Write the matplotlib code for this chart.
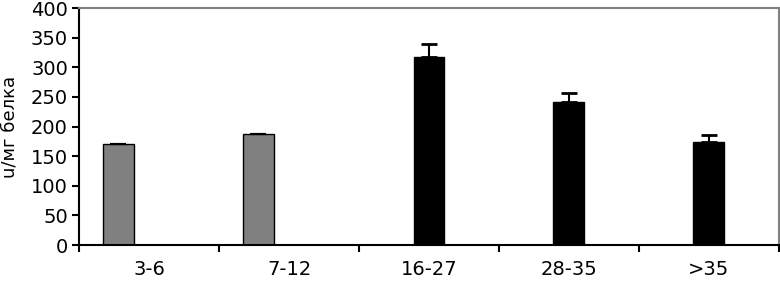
import matplotlib.pyplot as plt
import numpy as np

plt.rcParams['font.family'] = ['DejaVu Sans']

groups = ['3-6', '7-12', '16-27', '28-35', '>35']
gray_vals = [170, 188]
gray_err = [1, 0]
black_vals = [318, 241, 174]
black_err = [22, 16, 11]

fig = plt.figure(figsize=(7.8, 2.82), dpi=100)
ax = fig.add_axes([0.1013, 0.1312, 0.8974, 0.8404])

w = 0.2214
x = np.arange(len(groups))
ax.bar(x[:2] - w, gray_vals, width=w, color='#808080', edgecolor='black', linewidth=1,
       yerr=[[0, 0], gray_err], error_kw=dict(ecolor='black', elinewidth=1.2, capsize=6, capthick=1.5))
ax.bar(x[2:], black_vals, width=w, color='black', edgecolor='black', linewidth=1,
       yerr=[[0, 0, 0], black_err], error_kw=dict(ecolor='black', elinewidth=1.5, capsize=6, capthick=2))

ax.set_xlim(-0.5, 4.5)
ax.set_ylim(0, 400)
ax.set_yticks(range(0, 401, 50))
ax.set_xticks(x)
ax.set_xticklabels(groups, fontsize=14)
ax.set_xticks(np.arange(-0.5, 4.6, 1), minor=True)
ax.tick_params(axis='x', which='major', length=0, pad=11)
ax.tick_params(axis='x', which='minor', length=5, width=1.5, direction='out')
ax.tick_params(axis='y', labelsize=14, length=5, width=1.5, direction='out', pad=3)
ax.set_ylabel('u/мг белка', fontsize=13)
ax.yaxis.set_label_coords(-0.087, 0.5)

for s in ['left', 'bottom']:
    ax.spines[s].set_linewidth(1.5)
    ax.spines[s].set_color('black')
for s in ['top', 'right']:
    ax.spines[s].set_color('#808080')
    ax.spines[s].set_linewidth(1.5)

fig.savefig('out.png', dpi=100)
